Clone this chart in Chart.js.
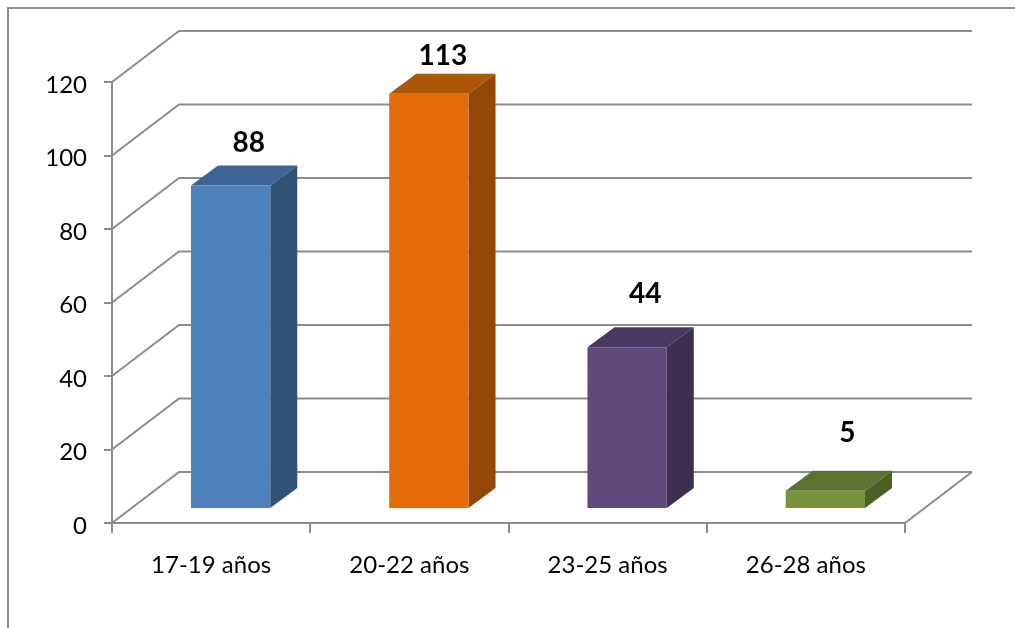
<!DOCTYPE html>
<html>
<head>
<meta charset="utf-8">
<style>
  body { margin: 0; background: #fff; }
</style>
<script src="https://cdn.jsdelivr.net/npm/chart.js@4"></script>
</head>
<body>
<canvas id="chart" width="1015" height="628"></canvas>
<script>
// data
const categories = ["17-19 años", "20-22 años", "23-25 años", "26-28 años"];
const values = [88, 113, 44, 5];
const frontColors = ["#4f81bd", "#e46c0a", "#604a7b", "#77933c"];
const sideColors = ["#325276", "#924808", "#3d2f50", "#4c5f26"];
const topColors = ["#3c6494", "#ad5606", "#4a3960", "#5c722e"];

// fake 3d depth, in px
const wallDx = 67, wallDy = -51;
const barShiftX = 19.5, barShiftY = -14;
const depthX = 27, depthY = -20;
// excel put the labels by hand, so each has its own offset from the bar top
const labelOffsets = [[18, -43], [14, -38], [18, -53], [22, -58]];
const lineColor = "#8c8c8c";

function line(ctx, x1, y1, x2, y2) {
  ctx.beginPath();
  ctx.moveTo(x1, y1);
  ctx.lineTo(x2, y2);
  ctx.stroke();
}

function poly(ctx, color, pts) {
  ctx.fillStyle = color;
  ctx.beginPath();
  pts.forEach((p, i) => (i ? ctx.lineTo(p[0], p[1]) : ctx.moveTo(p[0], p[1])));
  ctx.closePath();
  ctx.fill();
}

const depthPlugin = {
  id: "depth",
  beforeDatasetsDraw(chart) {
    const { ctx, chartArea: a, scales } = chart;
    ctx.save();
    // outer frame, open on the right and bottom
    ctx.strokeStyle = lineColor;
    ctx.lineWidth = 2;
    ctx.beginPath();
    ctx.moveTo(8, 628);
    ctx.lineTo(8, 8);
    ctx.lineTo(1015, 8);
    ctx.stroke();
    // side wall and back wall lines
    scales.y.ticks.forEach((t) => {
      const y = scales.y.getPixelForValue(t.value);
      ctx.beginPath();
      ctx.moveTo(a.left, y);
      ctx.lineTo(a.left + wallDx, y + wallDy);
      ctx.lineTo(a.right + wallDx, y + wallDy);
      ctx.stroke();
    });
    line(ctx, a.right, a.bottom, a.right + wallDx, a.bottom + wallDy);
    ctx.restore();

    // side and top faces of the bars
    ctx.save();
    ctx.translate(barShiftX, barShiftY);
    chart.getDatasetMeta(0).data.forEach((bar, i) => {
      const l = bar.x - bar.width / 2, r = bar.x + bar.width / 2;
      poly(ctx, sideColors[i], [[r, bar.y], [r + depthX, bar.y + depthY], [r + depthX, bar.base + depthY], [r, bar.base]]);
      poly(ctx, topColors[i], [[l, bar.y], [l + depthX, bar.y + depthY], [r + depthX, bar.y + depthY], [r, bar.y]]);
    });
    // front faces get drawn by chart.js inside this translate
  },
  afterDatasetsDraw(chart) {
    const { ctx } = chart;
    ctx.restore();
    ctx.save();
    ctx.fillStyle = "#000";
    ctx.font = "bold 28px Lato";
    ctx.textAlign = "center";
    ctx.textBaseline = "middle";
    chart.getDatasetMeta(0).data.forEach((bar, i) => {
      const o = labelOffsets[i];
      ctx.fillText(values[i], bar.x + barShiftX + o[0], bar.y + barShiftY + o[1]);
    });
    ctx.restore();
  },
};

new Chart(document.getElementById("chart"), {
  type: "bar",
  data: {
    labels: categories,
    datasets: [
      {
        data: values,
        backgroundColor: frontColors,
        borderWidth: 0,
        barPercentage: 0.4,
        categoryPercentage: 1,
        clip: false,
      },
    ],
  },
  options: {
    responsive: false,
    animation: false,
    layout: { padding: { top: 82, right: 110, left: 0, bottom: 0 } },
    plugins: { legend: { display: false }, tooltip: { enabled: false } },
    scales: {
      x: {
        afterFit: (s) => { s.height = 105; },
        grid: { drawOnChartArea: false, color: lineColor, lineWidth: 2, tickLength: 10 },
        border: { color: lineColor, width: 2 },
        ticks: { color: "#000", font: { family: "Lato", size: 24 }, padding: 18, maxRotation: 0 },
      },
      y: {
        min: 0,
        max: 120,
        afterFit: (s) => { s.width = 112; },
        grid: { drawOnChartArea: false, color: lineColor, lineWidth: 2, tickLength: 8 },
        border: { color: lineColor, width: 2 },
        ticks: { stepSize: 20, color: "#000", font: { family: "Lato", size: 24 }, padding: 17, labelOffset: 3 },
      },
    },
  },
  plugins: [depthPlugin],
});
</script>
</body>
</html>
